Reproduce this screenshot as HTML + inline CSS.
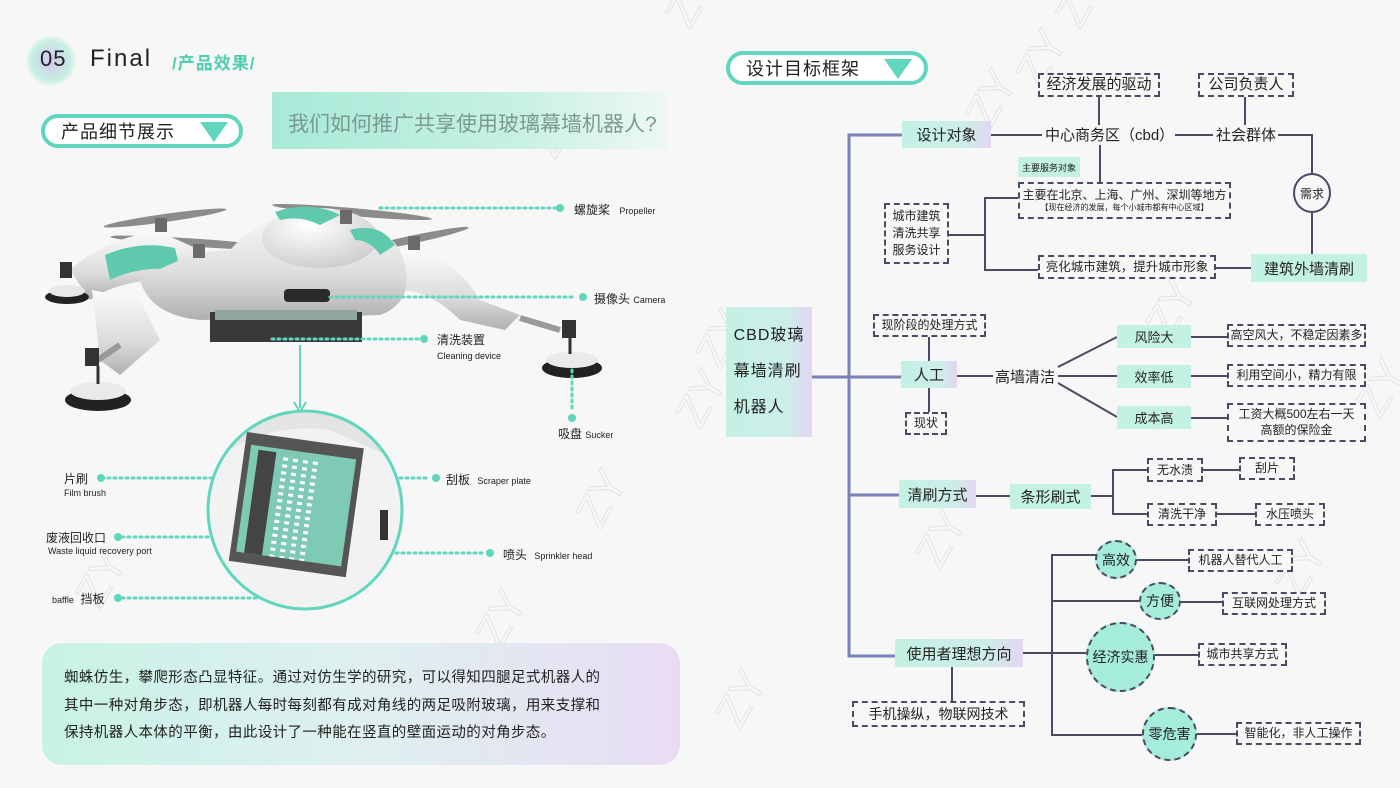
<!DOCTYPE html>
<html><head><meta charset="utf-8"><style>
*{margin:0;padding:0;box-sizing:border-box}
body{width:1400px;height:788px;background:#f7f7f7;position:relative;overflow:hidden;font-family:"Liberation Sans","Noto Sans CJK SC",sans-serif;color:#222}
.a{position:absolute;white-space:nowrap}
.t{position:absolute;display:flex;align-items:center;justify-content:center;background:linear-gradient(90deg,#c3f1e4 0%,#cdeee8 70%,#e2d6f2 100%);color:#222}
.d{position:absolute;display:flex;align-items:center;justify-content:center;border:2px dashed #4a4a62;color:#222;background:#f7f7f7;text-align:center;line-height:1.35}
.c{position:absolute;border-radius:50%;border:2px dashed #4a4a62;background:#a6ecdb;display:flex;align-items:center;justify-content:center;color:#222}
.pill{position:absolute;border:4px solid #5fd6bd;border-radius:20px;background:#fff;font-size:18px;display:flex;align-items:center;padding-left:16px;letter-spacing:1px}
.tri{position:absolute;width:0;height:0;border-left:14px solid transparent;border-right:14px solid transparent;border-top:20px solid #5fd6bd}
</style></head><body>

<svg class="a" style="left:0;top:0" width="1400" height="788">
<g fill="none" stroke="#e4e4e4" stroke-width="1" font-size="44" font-family="Liberation Sans">
<text transform="translate(690,30) rotate(-60)">ZY</text>
<text transform="translate(1080,30) rotate(-60)">ZY</text>
<text transform="translate(555,160) rotate(-60)">ZY</text>
<text transform="translate(1040,90) rotate(-60)">ZY</text>
<text transform="translate(990,130) rotate(-60)">ZY</text>
<text transform="translate(720,370) rotate(-60)">ZY</text>
<text transform="translate(1170,340) rotate(-60)">ZY</text>
<text transform="translate(700,430) rotate(-60)">ZY</text>
<text transform="translate(600,530) rotate(-60)">ZY</text>
<text transform="translate(500,650) rotate(-60)">ZY</text>
<text transform="translate(940,570) rotate(-60)">ZY</text>
<text transform="translate(740,730) rotate(-60)">ZY</text>
<text transform="translate(100,610) rotate(-60)">ZY</text>
<text transform="translate(1380,420) rotate(-60)">ZY</text>
<text transform="translate(1300,600) rotate(-60)">ZY</text>
</g></svg>

<div class="a" style="left:26px;top:36px;width:50px;height:50px;border-radius:50%;background:radial-gradient(circle,#d6c6f0 0%,#c6eee2 55%,rgba(247,247,247,0) 75%)"></div>
<div class="a" style="left:40px;top:46px;font-size:22px;letter-spacing:1px">05</div>
<div class="a" style="left:90px;top:45px;font-size:24px;letter-spacing:2px">Final</div>
<div class="a" style="left:172px;top:49px;font-size:17px;color:#4dcfb0;font-weight:bold;letter-spacing:1px">/产品效果/</div>

<div class="pill" style="left:41px;top:114px;width:202px;height:34px">产品细节展示</div>
<div class="tri" style="left:200px;top:122px"></div>

<div class="a" style="left:272px;top:92px;width:396px;height:57px;background:linear-gradient(90deg,#a8ead7 0%,#c6f0e4 60%,#eef7f4 100%)"></div>
<div class="a" style="left:288px;top:108px;font-size:21px;color:#7a9a92">我们如何推广共享使用玻璃幕墙机器人?</div>

<svg class="a" style="left:0;top:0" width="700" height="640">
<defs>
<linearGradient id="sv" x1="0" y1="0" x2="0" y2="1"><stop offset="0" stop-color="#fafafa"/><stop offset="0.6" stop-color="#dcdcdc"/><stop offset="1" stop-color="#b0b0b0"/></linearGradient>
<radialGradient id="dm" cx="0.4" cy="0.3" r="0.8"><stop offset="0" stop-color="#ffffff"/><stop offset="1" stop-color="#c8c8c8"/></radialGradient>
</defs>
<g fill="#8c8c8c">
<ellipse cx="165" cy="218" rx="62" ry="4" transform="rotate(-8 165 218)"/>
<ellipse cx="352" cy="212" rx="80" ry="4" transform="rotate(5 352 212)"/>
<ellipse cx="200" cy="243" rx="90" ry="4" transform="rotate(4 200 243)"/>
<ellipse cx="410" cy="240" rx="60" ry="4" transform="rotate(-12 410 240)"/>
</g>
<path d="M70 270 Q110 235 160 232 L200 250 Q190 275 150 280 Q110 285 90 300Z" fill="url(#sv)"/>
<path d="M92 290 L140 300 L160 340 L120 375 L100 360 Z" fill="url(#sv)"/>
<path d="M400 250 Q450 250 480 300 L520 315 L505 330 L460 320 Q430 290 400 290Z" fill="url(#sv)"/>
<path d="M105 255 Q140 240 175 248 L180 270 Q140 265 110 280Z" fill="#5fc9ae"/>
<path d="M140 280 Q190 250 230 250 Q270 205 330 210 Q380 220 400 250 Q420 300 380 315 L200 320 Q150 315 140 280Z" fill="url(#sv)"/>
<ellipse cx="320" cy="238" rx="58" ry="30" fill="url(#dm)"/>
<path d="M275 212 Q310 200 340 215 L320 225 Q300 215 280 220Z" fill="#5fc9ae"/>
<path d="M350 230 Q380 222 395 245 L380 255 Q370 240 355 240Z" fill="#5fc9ae"/>
<rect x="284" y="289" width="46" height="13" rx="4" fill="#2a2a2a"/>
<rect x="210" y="312" width="152" height="30" fill="#3a3a3a"/>
<rect x="215" y="310" width="142" height="10" fill="#8fa79f"/>
<g fill="#6a6a6a"><rect x="155" y="218" width="12" height="14"/><rect x="340" y="210" width="12" height="14"/><rect x="193" y="244" width="12" height="14"/><rect x="408" y="236" width="12" height="14"/></g>
<g>
<rect x="60" y="262" width="12" height="16" fill="#333"/>
<ellipse cx="67" cy="297" rx="22" ry="7" fill="#222"/><ellipse cx="67" cy="291" rx="18" ry="6" fill="#e8e8e8"/>
<line x1="120" y1="345" x2="98" y2="360" stroke="#999" stroke-width="6"/>
<rect x="85" y="348" width="14" height="18" fill="#333"/>
<ellipse cx="98" cy="400" rx="33" ry="11" fill="#222"/><ellipse cx="98" cy="391" rx="28" ry="9" fill="#eaeaea"/><line x1="98" y1="366" x2="98" y2="384" stroke="#333" stroke-width="3"/>
<line x1="520" y1="318" x2="560" y2="330" stroke="#999" stroke-width="6"/>
<rect x="562" y="320" width="14" height="18" fill="#333"/>
<ellipse cx="572" cy="368" rx="30" ry="10" fill="#222"/><ellipse cx="572" cy="360" rx="26" ry="8" fill="#eaeaea"/><line x1="570" y1="338" x2="570" y2="354" stroke="#333" stroke-width="3"/>
</g>
<g stroke="#5fd6bd" stroke-width="3" stroke-dasharray="2 4" fill="none" stroke-linecap="round">
<line x1="380" y1="208" x2="556" y2="208"/>
<line x1="330" y1="297" x2="576" y2="297"/>
<line x1="272" y1="339" x2="420" y2="339"/>
<line x1="572" y1="370" x2="572" y2="412"/>
<line x1="102" y1="478" x2="285" y2="478"/>
<line x1="352" y1="478" x2="430" y2="478"/>
<line x1="122" y1="537" x2="268" y2="537"/>
<line x1="330" y1="553" x2="486" y2="553"/>
<line x1="122" y1="598" x2="292" y2="598"/>
<line x1="292" y1="555" x2="292" y2="598"/>
</g>
<g fill="#5fd6bd">
<circle cx="560" cy="208" r="4"/><circle cx="583" cy="297" r="4"/><circle cx="424" cy="339" r="4"/><circle cx="572" cy="418" r="4"/>
<circle cx="101" cy="478" r="4"/><circle cx="436" cy="478" r="4"/><circle cx="118" cy="537" r="4"/><circle cx="490" cy="553" r="4"/><circle cx="118" cy="598" r="4"/>
</g>
<line x1="300" y1="345" x2="300" y2="408" stroke="#5fd6bd" stroke-width="2"/>
<path d="M294 402 L300 412 L306 402" stroke="#5fd6bd" stroke-width="2" fill="none"/>
<clipPath id="cc"><ellipse cx="305" cy="510" rx="97" ry="99"/></clipPath>
<g clip-path="url(#cc)">
<rect x="200" y="405" width="210" height="210" fill="#e4e4e4"/>
<path d="M200 470 Q260 420 330 430 L420 470 L420 615 L200 615Z" fill="#f2f2f2"/>
<g transform="rotate(8 300 500)">
<rect x="238" y="440" width="118" height="130" fill="#555"/>
<rect x="244" y="452" width="106" height="112" fill="#7fcab4"/>
<rect x="252" y="456" width="18" height="104" fill="#444"/>
<g stroke="#fff" stroke-width="5" stroke-dasharray="3 4"><line x1="280" y1="460" x2="280" y2="560"/><line x1="290" y1="460" x2="290" y2="560"/><line x1="300" y1="460" x2="300" y2="560"/><line x1="310" y1="460" x2="310" y2="560"/></g>
<rect x="238" y="560" width="118" height="10" fill="#555"/>
</g>
<rect x="380" y="510" width="8" height="30" fill="#333"/>
</g>
<ellipse cx="305" cy="510" rx="97" ry="99" fill="none" stroke="#5fd6bd" stroke-width="3"/>
</svg>

<div class="a" style="left:574px;top:201px;font-size:12px">螺旋桨 <span style="font-size:9px;margin-left:6px">Propeller</span></div>
<div class="a" style="left:594px;top:290px;font-size:12px">摄像头 <span style="font-size:9px">Camera</span></div>
<div class="a" style="left:437px;top:331px;font-size:12px">清洗装置</div>
<div class="a" style="left:437px;top:351px;font-size:9px">Cleaning device</div>
<div class="a" style="left:558px;top:425px;font-size:12px">吸盘 <span style="font-size:9px">Sucker</span></div>
<div class="a" style="left:64px;top:470px;font-size:12px">片刷</div>
<div class="a" style="left:64px;top:488px;font-size:9px">Film brush</div>
<div class="a" style="left:446px;top:471px;font-size:12px">刮板 <span style="font-size:9px;margin-left:4px">Scraper plate</span></div>
<div class="a" style="left:46px;top:529px;font-size:12px">废液回收口</div>
<div class="a" style="left:48px;top:546px;font-size:9px">Waste liquid recovery port</div>
<div class="a" style="left:503px;top:546px;font-size:12px">喷头 <span style="font-size:9px;margin-left:4px">Sprinkler head</span></div>
<div class="a" style="left:52px;top:590px;font-size:12px"><span style="font-size:9px">baffle</span>&nbsp; 挡板</div>

<div class="a" style="left:42px;top:643px;width:638px;height:122px;border-radius:20px;background:linear-gradient(90deg,#c8f2e6 0%,#dff0ef 50%,#e8dcf4 100%)"></div>
<div class="a" style="left:64px;top:665px;font-size:14.5px;line-height:27.5px;letter-spacing:0.4px">蜘蛛仿生，攀爬形态凸显特征。通过对仿生学的研究，可以得知四腿足式机器人的<br>其中一种对角步态，即机器人每时每刻都有成对角线的两足吸附玻璃，用来支撑和<br>保持机器人本体的平衡，由此设计了一种能在竖直的壁面运动的对角步态。</div>

<div class="pill" style="left:726px;top:51px;width:202px;height:34px">设计目标框架</div>
<div class="tri" style="left:884px;top:59px"></div>

<svg class="a" style="left:0;top:0" width="1400" height="788">
<g stroke="#7b80b6" stroke-width="3" fill="none">
<path d="M902 135 L849 135 L849 656 L895 656"/>
<line x1="812" y1="377" x2="901" y2="377"/>
<line x1="849" y1="495" x2="899" y2="495"/>
</g>
<g stroke="#4a4a62" stroke-width="2" fill="none">
<line x1="991" y1="135" x2="1042" y2="135"/>
<line x1="1175" y1="135" x2="1213" y2="135"/>
<path d="M1278 135 L1312 135 L1312 175"/>
<line x1="1312" y1="212" x2="1312" y2="254"/>
<line x1="1099" y1="96" x2="1099" y2="125"/>
<line x1="1245" y1="96" x2="1245" y2="125"/>
<line x1="1100" y1="145" x2="1100" y2="182"/>
<path d="M949 235 L985 235"/>
<path d="M1018 198 L985 198 L985 270 L1038 270"/>
<line x1="1216" y1="268" x2="1251" y2="268"/>
<line x1="929" y1="337" x2="929" y2="361"/>
<line x1="929" y1="388" x2="929" y2="412"/>
<line x1="957" y1="376" x2="993" y2="376"/>
<line x1="1058" y1="367" x2="1117" y2="337"/>
<line x1="1058" y1="376" x2="1117" y2="376"/>
<line x1="1058" y1="383" x2="1117" y2="417"/>
<line x1="1191" y1="337" x2="1228" y2="337"/>
<line x1="1191" y1="376" x2="1228" y2="376"/>
<line x1="1191" y1="418" x2="1228" y2="418"/>
<line x1="976" y1="496" x2="1010" y2="496"/>
<path d="M1091 496 L1113 496"/>
<path d="M1147 470 L1113 470 L1113 514 L1147 514"/>
<line x1="1203" y1="470" x2="1239" y2="470"/>
<line x1="1217" y1="514" x2="1255" y2="514"/>
<line x1="1023" y1="653" x2="1086" y2="653"/>
<path d="M1096 555 L1052 555 L1052 735 L1143 735"/>
<line x1="1052" y1="601" x2="1139" y2="601"/>
<line x1="952" y1="667" x2="952" y2="701"/>
<line x1="1136" y1="560" x2="1188" y2="560"/>
<line x1="1181" y1="602" x2="1222" y2="602"/>
<line x1="1155" y1="655" x2="1198" y2="655"/>
<line x1="1197" y1="734" x2="1236" y2="734"/>
</g>
<ellipse cx="1312" cy="193" rx="18" ry="19" fill="#f7f7f7" stroke="#4a4a62" stroke-width="2"/>
</svg>

<div class="t" style="left:902px;top:121px;width:89px;height:27px;font-size:15px">设计对象</div>
<div class="d" style="left:1038px;top:73px;width:122px;height:24px;font-size:15px">经济发展的驱动</div>
<div class="d" style="left:1198px;top:73px;width:96px;height:24px;font-size:15px">公司负责人</div>
<div class="a" style="left:1045px;top:124px;font-size:15px">中心商务区（cbd）</div>
<div class="a" style="left:1216px;top:124px;font-size:15px">社会群体</div>
<div class="a" style="left:1300px;top:185px;font-size:12px">需求</div>
<div class="t" style="left:1018px;top:157px;width:62px;height:20px;font-size:9px;background:#c3f1e4">主要服务对象</div>
<div class="d" style="left:1018px;top:182px;width:213px;height:37px;flex-direction:column;font-size:12px;line-height:1.25">主要在北京、上海、广州、深圳等地方<span style="font-size:8px">【现在经济的发展，每个小城市都有中心区域】</span></div>
<div class="d" style="left:884px;top:203px;width:65px;height:61px;font-size:12px;line-height:1.4">城市建筑<br>清洗共享<br>服务设计</div>
<div class="d" style="left:1038px;top:255px;width:178px;height:24px;font-size:12.5px">亮化城市建筑，提升城市形象</div>
<div class="t" style="left:1251px;top:254px;width:116px;height:28px;font-size:15px;background:#c3f1e4">建筑外墙清刷</div>

<div class="t" style="left:726px;top:307px;width:86px;height:130px;flex-direction:column;font-size:16px;line-height:36px;letter-spacing:1px">CBD玻璃<br>幕墙清刷<br>机器人</div>
<div class="d" style="left:873px;top:314px;width:113px;height:23px;font-size:12px">现阶段的处理方式</div>
<div class="t" style="left:901px;top:361px;width:56px;height:27px;font-size:15px">人工</div>
<div class="d" style="left:905px;top:412px;width:42px;height:23px;font-size:12px">现状</div>
<div class="a" style="left:995px;top:366px;font-size:15px">高墙清洁</div>
<div class="t" style="left:1117px;top:325px;width:74px;height:23px;font-size:13px;background:#c3f1e4">风险大</div>
<div class="t" style="left:1117px;top:365px;width:74px;height:23px;font-size:13px;background:#c3f1e4">效率低</div>
<div class="t" style="left:1117px;top:406px;width:74px;height:23px;font-size:13px;background:#c3f1e4">成本高</div>
<div class="d" style="left:1227px;top:324px;width:139px;height:23px;font-size:12px">高空风大，不稳定因素多</div>
<div class="d" style="left:1227px;top:364px;width:139px;height:23px;font-size:12px">利用空间小，精力有限</div>
<div class="d" style="left:1227px;top:403px;width:139px;height:39px;font-size:12px;line-height:1.3">工资大概500左右一天<br>高额的保险金</div>

<div class="t" style="left:899px;top:480px;width:77px;height:28px;font-size:15px">清刷方式</div>
<div class="t" style="left:1010px;top:484px;width:81px;height:25px;font-size:15px;background:#c3f1e4">条形刷式</div>
<div class="d" style="left:1147px;top:458px;width:56px;height:24px;font-size:12px">无水渍</div>
<div class="d" style="left:1147px;top:503px;width:70px;height:23px;font-size:12px">清洗干净</div>
<div class="d" style="left:1239px;top:457px;width:56px;height:23px;font-size:12px">刮片</div>
<div class="d" style="left:1255px;top:503px;width:70px;height:23px;font-size:12px">水压喷头</div>

<div class="t" style="left:895px;top:639px;width:128px;height:28px;font-size:15px">使用者理想方向</div>
<div class="d" style="left:852px;top:701px;width:173px;height:26px;font-size:14px">手机操纵，物联网技术</div>
<div class="c" style="left:1095px;top:540px;width:42px;height:39px;font-size:14px">高效</div>
<div class="c" style="left:1139px;top:582px;width:42px;height:38px;font-size:14px">方便</div>
<div class="c" style="left:1086px;top:622px;width:69px;height:70px;font-size:14px">经济实惠</div>
<div class="c" style="left:1142px;top:707px;width:55px;height:54px;font-size:14px">零危害</div>
<div class="d" style="left:1188px;top:549px;width:105px;height:23px;font-size:12px">机器人替代人工</div>
<div class="d" style="left:1222px;top:592px;width:104px;height:23px;font-size:12px">互联网处理方式</div>
<div class="d" style="left:1198px;top:643px;width:89px;height:23px;font-size:12px">城市共享方式</div>
<div class="d" style="left:1236px;top:722px;width:125px;height:23px;font-size:12px">智能化，非人工操作</div>
</body></html>
